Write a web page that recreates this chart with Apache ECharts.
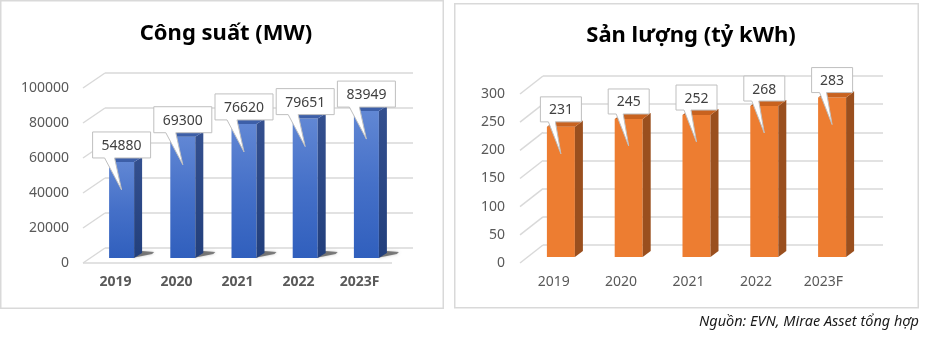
<!DOCTYPE html>
<html><head><meta charset="utf-8">
<script src="https://cdn.jsdelivr.net/npm/echarts@6/dist/echarts.min.js"></script>
<style>html,body{margin:0;padding:0;background:#fff}#c{width:925px;height:352px}</style>
</head><body><div id="c"></div>
<script>
const categories = ['2019', '2020', '2021', '2022', '2023F'];
const capacityMW = [54880, 69300, 76620, 79651, 83949];
const outputBnKWh = [231, 245, 252, 268, 283];
const capTicks = [0, 20000, 40000, 60000, 80000, 100000];
const outTicks = [0, 50, 100, 150, 200, 250, 300];
const leftTitle = 'Công suất (MW)';
const rightTitle = 'Sản lượng (tỷ kWh)';
const sourceNote = 'Nguồn: EVN, Mirae Asset tổng hợp';

const FONT = 'Noto Sans';
const GRID_C = '#d9d9d9';
const LABEL_C = '#595959';

const chart = echarts.init(document.getElementById('c'), null, {renderer: 'canvas'});

function wallSeries(xi, yi, DX, DY, drawFront, ticks) {
  return {
    type: 'custom', xAxisIndex: xi, yAxisIndex: yi, silent: true, z: 1,
    data: ticks.map(t => [0, t]),
    renderItem: function (params, api) {
      const cs = params.coordSys;
      const p = api.coord([0, api.value(1)]);
      const children = [{
        type: 'line', shape: {x1: cs.x - DX, y1: p[1] + DY, x2: cs.x, y2: p[1]},
        style: {stroke: GRID_C, lineWidth: 1.5}
      }];
      if (drawFront && api.value(1) === 0) {
        children.push({type: 'line', shape: {x1: cs.x - DX, y1: p[1] + DY, x2: cs.x + cs.width - DX + 1, y2: p[1] + DY},
          style: {stroke: GRID_C, lineWidth: 1.5}});
      }
      return {type: 'group', children: children};
    }
  };
}

function barSeries(xi, yi, values, cfg) {
  return {
    type: 'custom', xAxisIndex: xi, yAxisIndex: yi, silent: true, z: 3,
    data: values.map((v, i) => [i, v]),
    renderItem: function (params, api) {
      const i = api.value(0), v = api.value(1);
      const p0 = api.coord([i, 0]), p1 = api.coord([i, v]);
      const w = cfg.w, dx = cfg.dx, dy = cfg.dy;
      const x0 = p0[0] - w / 2, x1 = p0[0] + w / 2;
      const yb = p0[1], yt = p1[1];
      const ch = [];
      if (cfg.shadow) {
        ch.push({type: 'polygon', shape: {points: [[x1 - 2, yb], [x1 + dx + 10, yb - dy + 1], [x1 + dx + 12, yb - dy - 1], [x1 + dx, yb - dy - 2]]},
          style: {fill: 'rgba(40,40,40,0.55)', shadowBlur: 3, shadowColor: 'rgba(0,0,0,0.4)'}});
      }
      ch.push({type: 'rect', shape: {x: x0, y: yt, width: w, height: yb - yt}, style: {fill: cfg.front}});
      ch.push({type: 'polygon', shape: {points: [[x1, yt], [x1 + dx, yt - dy], [x1 + dx, yb - dy], [x1, yb]]}, style: {fill: cfg.side}});
      ch.push({type: 'polygon', shape: {points: [[x0, yt], [x1, yt], [x1 + dx, yt - dy], [x0 + dx, yt - dy]]}, style: {fill: cfg.top}});
      return {type: 'group', children: ch};
    }
  };
}

function calloutSeries(xi, yi, values, cfg) {
  return {
    type: 'custom', xAxisIndex: xi, yAxisIndex: yi, silent: true, z: 5,
    data: values.map((v, i) => [i, v]),
    renderItem: function (params, api) {
      const i = api.value(0), v = api.value(1);
      const p1 = api.coord([i, v]);
      const cx = p1[0];
      const bw = cfg.bw, bh = cfg.bh;
      const bx0 = cx - bw / 2, bx1 = cx + bw / 2;
      const by1 = p1[1] - cfg.gap, by0 = by1 - bh;
      const tipY = p1[1] + cfg.tip;
      const pts = [[bx0, by0], [bx1, by0], [bx1, by1], [bx0 + cfg.b2, by1], [cx, tipY], [bx0 + cfg.b1, by1], [bx0, by1]];
      return {type: 'group', children: [
        {type: 'polygon', shape: {points: pts}, style: {fill: '#ffffff', stroke: '#bfbfbf', lineWidth: 1}},
        {type: 'text', style: {text: String(v), x: cx, y: (by0 + by1) / 2 + 1, align: 'center', verticalAlign: 'middle',
          font: '14px "' + FONT + '"', fill: '#404040'}}
      ]};
    }
  };
}

const blueFront = new echarts.graphic.LinearGradient(0, 0, 0, 1, [{offset: 0, color: '#6187d4'}, {offset: 0.5, color: '#4570c8'}, {offset: 1, color: '#305fbd'}]);
const blueSide = new echarts.graphic.LinearGradient(0, 0, 0, 1, [{offset: 0, color: '#34508f'}, {offset: 1, color: '#223f7c'}]);

const option = {
  animation: false,
  backgroundColor: '#ffffff',
  title: [
    {text: leftTitle, left: 221, top: 18, textAlign: 'center', textStyle: {fontFamily: FONT, fontSize: 22, fontWeight: 'bold', color: '#000'}},
    {text: rightTitle, left: 686, top: 20, textAlign: 'center', textStyle: {fontFamily: FONT, fontSize: 22, fontWeight: 'bold', color: '#000'}}
  ],
  grid: [
    {left: 105, top: 73, width: 308, height: 175},
    {left: 85, top: 88, width: 305, height: 175},
    {left: 91, top: 83, width: 306, height: 175},
    {left: 543, top: 76, width: 340, height: 169},
    {left: 520, top: 94, width: 337, height: 169},
    {left: 527, top: 88, width: 339, height: 169}
  ],
  xAxis: [0, 1, 2, 3, 4, 5].map(g => ({
    type: 'category', gridIndex: g, data: categories,
    show: g === 1 || g === 4,
    axisLine: {show: false}, axisTick: {show: false},
    axisLabel: {show: g === 1 || g === 4, margin: 12, color: LABEL_C, fontFamily: FONT, fontSize: 14, fontWeight: g === 1 ? 'bold' : 'normal'}
  })),
  yAxis: [0, 1, 2, 3, 4, 5].map(g => {
    const left = g < 3;
    return {
      type: 'value', gridIndex: g, min: 0, max: left ? 100000 : 300, interval: left ? 20000 : 50,
      axisLine: {show: false}, axisTick: {show: false},
      splitLine: {show: g === 0 || g === 3, lineStyle: {color: GRID_C, width: 1.5}},
      axisLabel: {show: g === 1 || g === 4, margin: left ? 16 : 15, color: LABEL_C, fontFamily: FONT, fontSize: 14,
        formatter: v => String(v)}
    };
  }),
  graphic: [
    {type: 'rect', shape: {x: 0.75, y: 0.75, width: 442.5, height: 307.5}, style: {fill: 'none', stroke: GRID_C, lineWidth: 1.5}, z: 0},
    {type: 'rect', shape: {x: 454.75, y: 3.75, width: 463.5, height: 304}, style: {fill: 'none', stroke: GRID_C, lineWidth: 1.5}, z: 0},
    {type: 'text', right: 6, top: 314, style: {text: sourceNote, font: 'italic 14.5px "' + FONT + '"', fill: '#1a1a1a'}}
  ],
  series: [
    wallSeries(0, 0, 22, 15, true, capTicks),
    wallSeries(3, 3, 23, 18, false, outTicks),
    barSeries(2, 2, capacityMW, {w: 25, dx: 8, dy: 5, front: blueFront, side: blueSide, top: '#3d5fa8', shadow: true}),
    barSeries(5, 5, outputBnKWh, {w: 28, dx: 8, dy: 6, front: '#ed7d31', side: '#9a4f1e', top: '#c8621f', shadow: false}),
    calloutSeries(2, 2, capacityMW, {bw: 58, bh: 26, gap: 4, tip: 28, b1: 12, b2: 22}),
    calloutSeries(5, 5, outputBnKWh, {bw: 41, bh: 25, gap: 5, tip: 27, b1: 8, b2: 15})
  ]
};
chart.setOption(option);
</script>
</body></html>
